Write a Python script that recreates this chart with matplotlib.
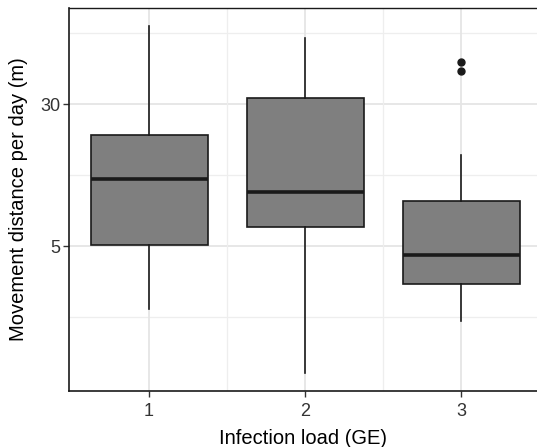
import matplotlib
matplotlib.use("Agg")
import matplotlib.pyplot as plt
import numpy as np

plt.rcParams['font.family'] = ['Liberation Sans', 'DejaVu Sans']

categories = ["1", "2", "3"]
whislo = [2.25, 1.0, 1.95]
q1 = [5.08, 6.33, 3.09]
med = [11.6, 9.93, 4.48]
q3 = [20.3, 32.6, 8.83]
whishi = [80.8, 69.0, 15.8]
fliers = [[], [], [45.7, 51.4]]

stats = []
for i, c in enumerate(categories):
    stats.append(dict(label=c, whislo=whislo[i], q1=q1[i], med=med[i],
                      q3=q3[i], whishi=whishi[i], fliers=fliers[i]))

fig = plt.figure(figsize=(5.37, 4.47), dpi=100)
W, H = 537, 447
ax = fig.add_axes([69 / W, 1 - 391 / H, (537 - 69) / W, (391 - 8) / H])

ax.set_yscale('log')
ax.set_ylim(0.8, 101.4)
ax.set_xlim(0.487, 3.487)

# grid
major = [5, 30]
minor = [2.04, 12.25, 73.5]
for y in major:
    ax.axhline(y, color='#E5E5E5', lw=1.3, zorder=0)
for y in minor:
    ax.axhline(y, color='#EEEEEE', lw=0.9, zorder=0)
for x in [1, 2, 3]:
    ax.axvline(x, color='#E5E5E5', lw=1.3, zorder=0)
for x in [1.5, 2.5]:
    ax.axvline(x, color='#EEEEEE', lw=0.9, zorder=0)

ax.bxp(stats, positions=[1, 2, 3], widths=0.75, patch_artist=True,
       showcaps=False, flierprops=dict(marker='o', markerfacecolor='#1a1a1a',
                                       markeredgecolor='#1a1a1a', markersize=5),
       boxprops=dict(facecolor='#7F7F7F', edgecolor='#1a1a1a', linewidth=1.2),
       whiskerprops=dict(color='#1a1a1a', linewidth=1.2),
       medianprops=dict(color='#1a1a1a', linewidth=2.6, solid_capstyle='butt'),
       zorder=3)

ax.yaxis.set_major_locator(matplotlib.ticker.FixedLocator(major))
ax.yaxis.set_minor_locator(matplotlib.ticker.NullLocator())
ax.yaxis.set_major_formatter(matplotlib.ticker.FixedFormatter(["5", "30"]))
ax.set_xticks([1, 2, 3])
ax.set_xticklabels(categories)

ax.tick_params(axis='both', labelsize=13, colors='#333333', length=4,
               width=1.0, direction='out', pad=2)
ax.tick_params(axis='x', pad=5)
ax.tick_params(axis='both', labelcolor='#333333')

for s in ['left', 'bottom']:
    ax.spines[s].set_color('#1a1a1a')
    ax.spines[s].set_linewidth(1.2)
ax.spines['top'].set_color('#1a1a1a')
ax.spines['top'].set_linewidth(1.0)
ax.spines['right'].set_visible(False)

ax.set_xlabel("Infection load (GE)", fontsize=14.5, color='black', labelpad=6)
ax.set_ylabel("Movement distance per day (m)", fontsize=14.5, color='black', labelpad=9)

fig.savefig("out.png", dpi=100)
